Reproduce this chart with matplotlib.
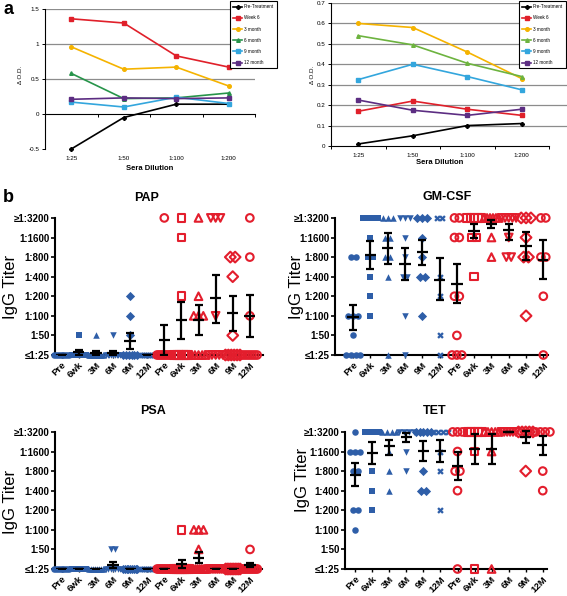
import numpy as np
import matplotlib.pyplot as plt

plt.rcParams['font.family'] = ['Liberation Sans', 'DejaVu Sans']

# ---- panel a data (delta O.D. vs sera dilution)
dilutions = ['1:25', '1:50', '1:100', '1:200']
series_names = ['Pre-Treatment', 'Week 6', '3 month', '6 month', '9 month', '12 month']
left_od = [
    [-0.50, -0.05, 0.14, 0.14],
    [1.36, 1.30, 0.83, 0.67],
    [0.96, 0.64, 0.67, 0.40],
    [0.58, 0.22, 0.23, 0.30],
    [0.17, 0.10, 0.24, 0.15],
    [0.21, 0.23, 0.22, 0.23],
]
right_od = [
    [0.01, 0.05, 0.10, 0.11],
    [0.17, 0.22, 0.18, 0.15],
    [0.60, 0.58, 0.46, 0.33],
    [0.54, 0.495, 0.405, 0.34],
    [0.325, 0.40, 0.34, 0.275],
    [0.225, 0.175, 0.15, 0.18],
]
left_colors = ['black', '#e0202a', '#f5b300', '#27944a', '#33a6dd', '#5c2d82']
right_colors = ['black', '#e0202a', '#f5b300', '#6db33f', '#33a6dd', '#5c2d82']
a_markers = ['P', 's', 'o', '^', 's', 's']

# ---- panel b data (IgG titers, blue cohort then red cohort)
timepoints = ['Pre', '6wk', '3M', '6M', '9M', '12M']
titer_labels = ['≤1:25', '1:50', '1:100', '1:200', '1:400', '1:800', '1:1600', '≥1:3200']

pap_blue = [[25]*9, [50]+[25]*9, [50]+[25]*9, [50]+[25]*9, [200, 100, 50]+[25]*6, [25]*8]
pap_red = [[3200]+[25]*9, [3200, 1600, 200]+[25]*7, [3200, 200, 100, 100, 100]+[25]*5,
           [3200]*3+[100]+[25]*5, [800, 800, 400, 50]+[25]*6, [3200, 800, 100]+[25]*7]
pap_mean = [0, 0.17, 0.1, 0.1, 0.73, 0, 0.77, 1.79, 1.79, 2.9, 2.17, 2.0]
pap_hi = [0, 0.25, 0.18, 0.18, 1.14, 0, 1.54, 2.73, 2.53, 4.1, 3.02, 3.07]
pap_lo = [0, 0, 0, 0, 0.32, 0, 0, 0.82, 1.02, 1.62, 1.23, 0.94]

gm_blue = [[800, 800, 100, 100, 100, 50, 25, 25, 25, 25],
           [3200]*4+[1600, 800, 800, 400, 200, 100],
           [3200]*3+[1600, 1600, 800, 800, 400, 25],
           [3200]*3+[1600, 800, 400, 400, 100, 25],
           [3200]*3+[1600, 800, 400, 400, 100],
           [3200, 3200, 400, 200, 50, 25]]
gm_red = [[3200, 3200, 1600, 1600, 200, 200, 50, 25, 25, 25],
          [3200]*5+[1600, 1600, 400],
          [3200]*6+[1600, 800],
          [3200]*5+[1600, 800, 800],
          [3200]*3+[1600, 800, 800, 100],
          [3200, 3200, 800, 800, 200, 25]]
gm_mean = [1.96, 5.12, 5.46, 4.66, 5.26, 3.84, 3.63, 6.35, 6.69, 6.37, 5.58, 4.86]
gm_hi = [2.56, 5.8, 6.23, 5.46, 5.89, 4.95, 4.66, 6.69, 6.91, 6.71, 6.26, 5.85]
gm_lo = [1.28, 4.39, 4.66, 3.84, 4.61, 2.82, 2.68, 5.97, 6.49, 5.89, 4.86, 3.87]

psa_blue = [[25]*9, [25]*9, [25]*8, [50, 50]+[25]*7, [25]*9, [25]*8]
psa_red = [[25]*10, [100]+[25]*9, [100, 100, 100, 50]+[25]*8, [25]*9, [25]*10, [50]+[25]*9]
psa_mean = [0, 0, 0, 0.22, 0, 0, 0, 0.26, 0.58, 0, 0, 0.2]
psa_hi = [0, 0, 0, 0.38, 0, 0, 0, 0.46, 0.85, 0, 0, 0.32]
psa_lo = [0, 0, 0, 0.06, 0, 0, 0, 0.06, 0.29, 0, 0, 0.08]

tet_blue = [[3200, 1600, 1600, 1600, 800, 800, 200, 200, 100],
            [3200]*4+[800, 400, 200],
            [3200]*4+[1600, 800, 400],
            [3200]*4+[1600, 800],
            [3200]*5+[800, 400, 400],
            [3200]*4+[1600, 800, 200]]
tet_red = [[3200]*3+[1600, 800, 800, 400, 25],
           [3200]*5+[1600, 25],
           [3200]*5+[1600, 25],
           [3200]*6,
           [3200]*5+[800],
           [3200]*4+[800, 400]]
tet_mean = [4.82, 5.93, 6.27, 6.74, 6.03, 6.03, 5.25, 6.11, 6.11, 7.0, 6.74, 6.32]
tet_hi = [5.42, 6.49, 6.6, 6.96, 6.54, 6.6, 5.98, 6.91, 6.91, 7.0, 7.03, 6.79]
tet_lo = [4.23, 5.35, 5.81, 6.49, 5.52, 5.47, 4.53, 5.38, 5.38, 7.0, 6.45, 5.81]

BLUE = '#2e5ea8'
RED = '#e31e2d'
blue_markers = ['o', 's', '^', 'v', 'D', 'X']
red_markers = ['o', 's', '^', 'v', 'D', 'o']

W, H = 567, 596
fig = plt.figure(figsize=(W/100, H/100), dpi=100)


def box(l, t, r, b):
    return [l/W, 1 - b/H, (r-l)/W, (b-t)/H]


def od_panel(ax, data, colors, ylim, step, grid, xmax, ylab_x, xlab_y, legend_xy):
    x = np.arange(4)
    for vals, c, m, name in zip(data, colors, a_markers, series_names):
        ax.plot(x, vals, color=c, lw=1.2, marker=m, ms=2.6, label=name, clip_on=False, zorder=3)
    ax.set_xlim(-0.5, xmax)
    ax.set_ylim(*ylim)
    for g in grid:
        ax.axhline(g, color='#8c8c8c', lw=0.9, zorder=1)
    ax.spines['top'].set_visible(False)
    ax.spines['right'].set_visible(False)
    ax.spines['bottom'].set_position(('data', 0))
    ax.spines['bottom'].set_bounds(-0.5, 3.5)
    ax.spines['left'].set_linewidth(0.8)
    ax.spines['bottom'].set_linewidth(0.8)
    ax.set_xticks(np.arange(-0.5, 4, 1))
    ax.set_xticklabels([])
    ticks = np.arange(ylim[0], ylim[1] + step/2, step)
    ax.set_yticks(ticks)
    ax.set_yticklabels([f'{v:g}' for v in ticks])
    ax.tick_params(axis='both', direction='out', length=2.5, width=0.7, labelsize=4.5, pad=1.5)
    for i, d in enumerate(dilutions):
        ax.text(i, -0.05, d, transform=ax.get_xaxis_transform(), ha='center', va='top', fontsize=4.5)
    fig.text(ylab_x/W, 1 - 75/H, 'Δ O.D.', rotation=90, ha='center', va='center', fontsize=4.5)
    fig.canvas.draw()
    xc = ax.transData.transform((1.5, 0))[0]
    fig.text(xc/W, 1 - xlab_y/H, 'Sera Dilution', ha='center', va='center', fontsize=5.5, weight='bold')
    leg = ax.legend(loc='upper right', bbox_to_anchor=(legend_xy[0]/W, 1 - legend_xy[1]/H),
                    bbox_transform=fig.transFigure, fontsize=3.3, frameon=True, fancybox=False,
                    handlelength=1.9, handletextpad=0.3, labelspacing=1.35, borderpad=0.7,
                    borderaxespad=0, framealpha=1)
    leg.get_frame().set_edgecolor('black')
    leg.get_frame().set_linewidth(0.8)


ax1 = fig.add_axes(box(45, 9, 255, 149))
od_panel(ax1, left_od, left_colors, (-0.5, 1.5), 0.5, [0.5, 1.0, 1.5], 3.5, 20, 168, (277, 1))
ax2 = fig.add_axes(box(331, 3, 567, 146))
od_panel(ax2, right_od, right_colors, (0, 0.7), 0.1, [0.1, 0.2, 0.3, 0.4, 0.5, 0.6, 0.7],
         3.5 + 18/54.5, 313, 163, (566, 1))

fig.text(8/W, 1 - 9/H, 'a', fontsize=13, weight='bold', ha='center', va='center')
fig.text(8/W, 1 - 198/H, 'b', fontsize=13, weight='bold', ha='center', va='center')


def spread(lv):
    off = np.zeros(len(lv))
    for v in np.unique(lv):
        idx = np.where(lv == v)[0]
        k = len(idx)
        if k > 1:
            st = min(0.28, 0.85/(k-1))
            off[idx] = (np.arange(k) - (k-1)/2) * st
    return off


def titer_panel(ax, blue, red, mean, hi, lo, xlim, title, title_xy, ylab_xy):
    for i, vals in enumerate(blue + red):
        lv = np.log2(np.array(vals) / 25.0)
        xs = i + spread(lv)
        if i < 6:
            ax.scatter(xs, lv, marker=blue_markers[i], s=22, color=BLUE, linewidths=0,
                       clip_on=False, zorder=3)
        else:
            ax.scatter(xs, lv, marker=red_markers[i-6], s=30, facecolors='none', edgecolors=RED,
                       linewidths=1.5, clip_on=False, zorder=3)
    x = np.arange(12)
    mean = np.array(mean)
    ax.hlines(mean, x - 0.33, x + 0.33, color='black', lw=1.6, zorder=5)
    ax.errorbar(x, mean, yerr=[mean - np.array(lo), np.array(hi) - mean], fmt='none',
                ecolor='black', elinewidth=1.6, capsize=3, capthick=1.6, zorder=5)
    ax.set_xlim(*xlim)
    ax.set_ylim(0, 7.2)
    ax.spines['top'].set_visible(False)
    ax.spines['right'].set_visible(False)
    ax.spines['left'].set_linewidth(1.5)
    ax.spines['bottom'].set_linewidth(1.5)
    ax.spines['left'].set_bounds(0, 7)
    ax.set_yticks(range(8))
    ax.set_yticklabels(titer_labels, fontsize=7, weight='bold')
    ax.set_xticks(x)
    ax.set_xticklabels(timepoints * 2, rotation=45, ha='right', rotation_mode='anchor',
                       fontsize=6.8, weight='bold')
    ax.tick_params(axis='y', length=3, width=1.2, pad=1)
    ax.tick_params(axis='x', length=2, width=1, pad=2)
    fig.text(title_xy[0]/W, 1 - title_xy[1]/H, title, fontsize=9, weight='bold', ha='center', va='center')
    fig.text(ylab_xy[0]/W, 1 - ylab_xy[1]/H, 'IgG Titer', fontsize=12, rotation=90, ha='center', va='center')


ax3 = fig.add_axes(box(55, 214, 263, 355))
titer_panel(ax3, pap_blue, pap_red, pap_mean, pap_hi, pap_lo, (-0.39, 11.77), 'PAP', (147, 198), (10, 287))
ax4 = fig.add_axes(box(335, 214, 548, 355))
titer_panel(ax4, gm_blue, gm_red, gm_mean, gm_hi, gm_lo, (-1.05, 11.27), 'GM-CSF', (447, 197), (297, 287))
ax5 = fig.add_axes(box(55, 428, 262, 569))
titer_panel(ax5, psa_blue, psa_red, psa_mean, psa_hi, psa_lo, (-0.39, 11.7), 'PSA', (153, 411), (10, 502))
ax6 = fig.add_axes(box(345, 428, 547, 569))
titer_panel(ax6, tet_blue, tet_red, tet_mean, tet_hi, tet_lo, (-0.6, 11.25), 'TET', (435, 411), (303, 480))

fig.savefig('out.png', dpi=100)
